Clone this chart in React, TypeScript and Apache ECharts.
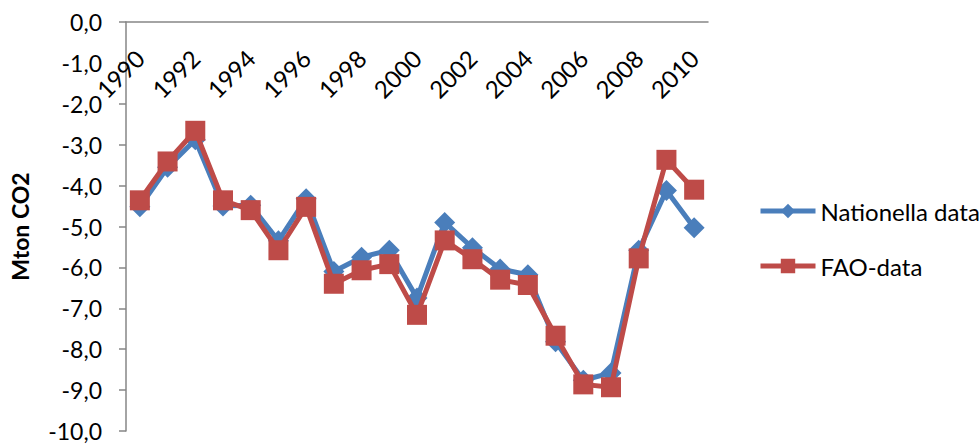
import React, { useEffect, useRef } from "react";
import * as echarts from "echarts";

const years = [
  "1990", "1991", "1992", "1993", "1994", "1995", "1996", "1997", "1998", "1999", "2000",
  "2001", "2002", "2003", "2004", "2005", "2006", "2007", "2008", "2009", "2010",
];
const nationellaData = [
  -4.52, -3.55, -2.88, -4.5, -4.48, -5.35, -4.32, -6.1, -5.75, -5.58, -6.75,
  -4.9, -5.52, -6.04, -6.18, -7.82, -8.76, -8.58, -5.58, -4.12, -5.03,
];
const faoData = [
  -4.36, -3.41, -2.66, -4.36, -4.6, -5.58, -4.52, -6.4, -6.07, -5.92, -7.16,
  -5.34, -5.8, -6.3, -6.43, -7.67, -8.86, -8.93, -5.78, -3.37, -4.1,
];
const seriesNames = ["Nationella data", "FAO-data"];
const yAxisTitle = "Mton CO2";

const FONT = "Lato";

export default function App() {
  const ref = useRef<HTMLDivElement>(null);
  useEffect(() => {
    if (!ref.current) return;
    const chart = echarts.init(ref.current, null, { renderer: "svg" });
    chart.setOption({
      animation: false,
      textStyle: { fontFamily: FONT, color: "#000" },
      grid: { left: 124, top: 22, right: 271, bottom: 14, containLabel: false },
      legend: {
        orient: "vertical",
        left: 753,
        top: 194,
        itemWidth: 55,
        itemHeight: 18,
        itemGap: 31,
        lineStyle: { width: 5 },
        textStyle: { fontFamily: FONT, fontSize: 24, color: "#000" },
        data: seriesNames,
      },
      xAxis: {
        type: "category",
        position: "top",
        data: years,
        boundaryGap: true,
        axisLine: { lineStyle: { color: "#868686", width: 1.5 } },
        axisTick: { inside: true, length: 7, interval: 0, lineStyle: { color: "#868686", width: 1.5 } },
        axisLabel: {
          inside: true,
          rotate: 45,
          interval: 1,
          margin: 32,
          fontSize: 24,
          fontFamily: FONT,
          color: "#000",
        },
        splitLine: { show: false },
      },
      yAxis: {
        type: "value",
        min: -10,
        max: 0,
        interval: 1,
        name: yAxisTitle,
        nameLocation: "middle",
        nameGap: 95,
        nameTextStyle: { fontFamily: FONT, fontSize: 23, fontWeight: "bold", color: "#000" },
        axisLine: { show: true, lineStyle: { color: "#868686", width: 1.5 } },
        axisTick: { show: true, length: 7, lineStyle: { color: "#868686", width: 1.5 } },
        axisLabel: {
          margin: 24,
          fontSize: 23,
          lineHeight: 20,
          fontFamily: FONT,
          color: "#000",
          formatter: (v: number) => v.toFixed(1).replace(".", ","),
        },
        splitLine: { show: false },
      },
      series: [
        {
          name: seriesNames[0],
          type: "line",
          data: nationellaData,
          symbol: "diamond",
          symbolSize: 21,
          showAllSymbol: true,
          itemStyle: { color: "#4A7EBB" },
          lineStyle: { color: "#4A7EBB", width: 5 },
          z: 2,
        },
        {
          name: seriesNames[1],
          type: "line",
          data: faoData,
          symbol: "rect",
          symbolSize: 20,
          showAllSymbol: true,
          itemStyle: { color: "#BE4B48" },
          lineStyle: { color: "#BE4B48", width: 5 },
          z: 3,
        },
      ],
    });
    return () => chart.dispose();
  }, []);
  return <div ref={ref} style={{ width: 979, height: 445, position: "absolute", left: 0, top: 0 }} />;
}
